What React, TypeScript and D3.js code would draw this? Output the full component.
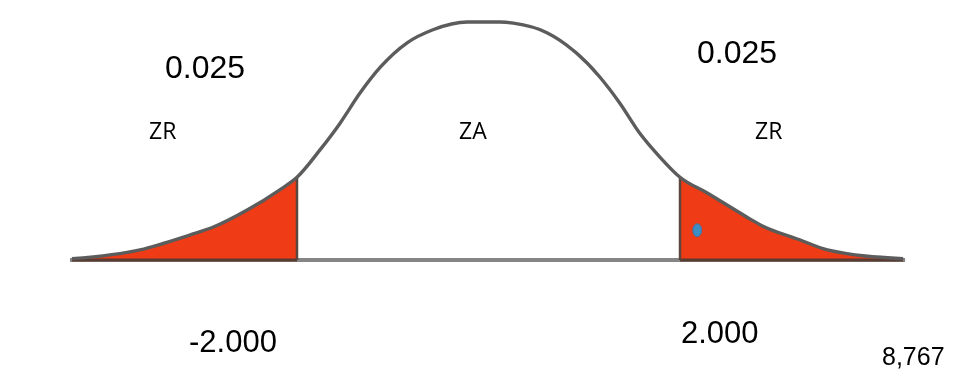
import React from "react";
import * as d3 from "d3";

// Density curve of the test statistic, sampled along the z axis
const curveZ = [-4.35, -3.64, -3.12, -2.88, -2.52, -2.18, -2.0, -1.76, -1.55, -1.34, -1.13, -0.85, -0.58, -0.22, 0.12, 0.26, 0.61, 0.88, 1.16, 1.37, 1.58, 1.79, 2.0, 2.28, 2.7, 2.84, 3.25, 3.54, 4.33];
const curveDensity = [0.002, 0.017, 0.042, 0.055, 0.084, 0.118, 0.139, 0.185, 0.23, 0.281, 0.324, 0.365, 0.387, 0.4, 0.4, 0.398, 0.382, 0.353, 0.308, 0.264, 0.213, 0.173, 0.139, 0.113, 0.072, 0.059, 0.034, 0.017, 0.002];

// Critical values bounding the rejection regions
const criticalValues = [-2, 2];
const tailAreas = ["0.025", "0.025"];
const regionLabels = ["ZR", "ZA", "ZR"];
const statisticLabel = "8,767";
// Observed point inside the right rejection region
const markerZ = [2.18];
const markerDensity = [0.05];

const W = 957;
const H = 371;

export default function App() {
  const x = d3.scaleLinear().domain([-4.5, 4.5]).range([488.5 - 4.5 * 95.75, 488.5 + 4.5 * 95.75]);
  const y = d3.scaleLinear().domain([0, 0.4]).range([260, 22]);
  const pts: [number, number][] = curveZ.map((z, i) => [z, curveDensity[i]]);

  const line = d3
    .line<[number, number]>()
    .x((d) => x(d[0]))
    .y((d) => y(d[1]))
    .curve(d3.curveMonotoneX);
  const area = d3
    .area<[number, number]>()
    .x((d) => x(d[0]))
    .y0(y(0))
    .y1((d) => y(d[1]))
    .curve(d3.curveMonotoneX);

  const xL = x(criticalValues[0]);
  const xR = x(criticalValues[1]);
  const x0 = x(curveZ[0]);
  const x1 = x(curveZ[curveZ.length - 1]);
  // plain hyphen for the negative sign
  const fmt = (v: number) => d3.format(".3f")(v).replace("\u2212", "-");
  const dens = (z: number) => curveDensity[curveZ.indexOf(z)];

  const digitFont = "'Liberation Sans', Arial, sans-serif";
  const letterFont = "'Open Sans', 'Noto Sans', sans-serif";

  return (
    <svg
      width={W}
      height={H}
      viewBox={`0 0 ${W} ${H}`}
      style={{ position: "absolute", left: 0, top: 0, background: "#fff" }}
    >
      <defs>
        <filter id="soft" x="-5%" y="-5%" width="110%" height="110%">
          <feGaussianBlur stdDeviation="0.7" />
        </filter>
        <clipPath id="leftTail">
          <rect x={0} y={0} width={xL} height={H} />
        </clipPath>
        <clipPath id="rightTail">
          <rect x={xR} y={0} width={W - xR} height={H} />
        </clipPath>
      </defs>

      <g filter="url(#soft)">
        <line x1={x0 - 2} x2={x1 + 2} y1={y(0)} y2={y(0)} stroke="#858585" strokeWidth={4} />
        <path d={area(pts) ?? ""} fill="#ef3b12" clipPath="url(#leftTail)" />
        <path d={area(pts) ?? ""} fill="#ef3b12" clipPath="url(#rightTail)" />
        <line x1={x0} x2={xL} y1={y(0)} y2={y(0)} stroke="#5a3a30" strokeWidth={3} />
        <line x1={xR} x2={x1} y1={y(0)} y2={y(0)} stroke="#5a3a30" strokeWidth={3} />
        {criticalValues.map((c, i) => (
          <line key={i} x1={x(c)} x2={x(c)} y1={y(0)} y2={y(dens(c))} stroke="#5b4640" strokeWidth={2.5} />
        ))}
        <path d={line(pts) ?? ""} fill="none" stroke="#5c5c5c" strokeWidth={3.4} />
        {markerZ.map((z, i) => (
          <ellipse key={i} cx={x(z)} cy={y(markerDensity[i])} rx={4.5} ry={6.5} fill="#3c8cc4" stroke="#4a6f9a" strokeWidth={1} />
        ))}
      </g>

      <g fill="#000">
        <text x={165} y={78} fontFamily={digitFont} fontSize={32}>{tailAreas[0]}</text>
        <text x={697} y={63} fontFamily={digitFont} fontSize={32}>{tailAreas[1]}</text>
        <text x={149} y={139} fontFamily={letterFont} fontSize={23}>{regionLabels[0]}</text>
        <text x={459} y={139} fontFamily={letterFont} fontSize={23}>{regionLabels[1]}</text>
        <text x={755} y={139} fontFamily={letterFont} fontSize={23}>{regionLabels[2]}</text>
        <text x={189} y={352} fontFamily={digitFont} fontSize={31}>{fmt(criticalValues[0])}</text>
        <text x={681} y={343} fontFamily={digitFont} fontSize={31}>{fmt(criticalValues[1])}</text>
        <text x={882} y={365} fontFamily={digitFont} fontSize={25}>{statisticLabel}</text>
      </g>
    </svg>
  );
}
